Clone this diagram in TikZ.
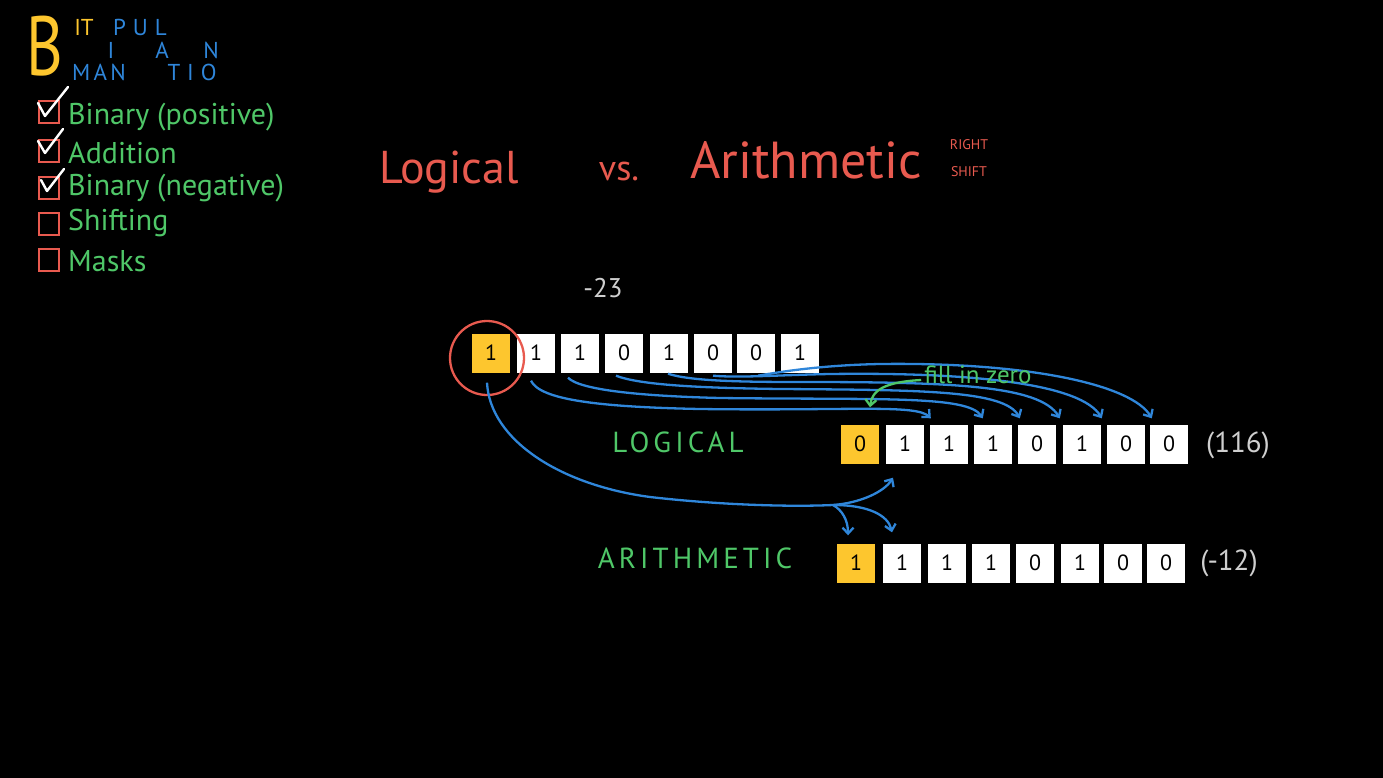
\documentclass[tikz,border=0pt]{standalone}
\usepackage{fontspec}
\setmainfont{PT Sans}
\newfontfamily\spaced[LetterSpace=14]{PT Sans}
\newfontfamily\wide[LetterSpace=30]{PT Sans}
\usetikzlibrary{arrows.meta,calc}
\definecolor{hy}{HTML}{FDC62E}
\definecolor{hr}{HTML}{E85A4F}
\definecolor{hg}{HTML}{4FC768}
\definecolor{hb}{HTML}{2F86DA}
\definecolor{hgray}{HTML}{CFCFCF}
\begin{document}
\begin{tikzpicture}[x=1pt,y=-1pt,
  bit/.style={fill=white,minimum width=38pt,minimum height=39pt,inner sep=0pt,
    font=\fontsize{22}{22}\selectfont,text=black},
  sbit/.style={bit,fill=hy},
  barrow/.style={draw=hb,line width=2.3pt,-{Straight Barb[length=6pt,width=11pt,line width=2.3pt]}},
  garrow/.style={draw=hg,line width=2.3pt,-{Straight Barb[length=6pt,width=11pt,line width=2.3pt]}},
  chk/.style={draw=hr,line width=2.4pt,minimum width=20pt,minimum height=22pt,inner sep=0pt},
  tick/.style={draw=white,line width=2.4pt,line cap=round,line join=round},
  item/.style={anchor=west,text=hg,font=\fontsize{30}{30}\selectfont,inner sep=0pt},
  bl/.style={text=hb,font=\fontsize{23}{23}\selectfont,inner sep=0pt,text height=17pt,text depth=0pt},
  yl/.style={text=hy,font=\fontsize{23}{23}\selectfont,inner sep=0pt,text height=17pt,text depth=0pt},
  lab/.style={text=hg,font=\spaced\fontsize{29}{29}\selectfont},
  ttl/.style={text=hr,inner sep=0pt},
  sml/.style={text=hr,inner sep=0pt,font=\fontsize{14}{14}\selectfont,text height=10pt,text depth=0pt}]
\fill[black] (0,0) rectangle (1383,778);
\useasboundingbox (0,0) rectangle (1383,778);

% ---- title block top-left
\node[text=hy,inner sep=0pt,font=\fontsize{84}{84}\selectfont,xscale=0.75,text height=60pt,text depth=0pt] (B) at (45,46) {B};
\node[yl] (IT) at (84,27) {IT};
\node[bl,font=\wide\fontsize{23}{23}\selectfont] (PUL) at (140,27) {PUL};
\node[bl] (I2) at (111,50) {I};
\node[bl] (A2) at (162,50) {A};
\node[bl] (N2) at (211,50) {N};
\node[bl,font=\spaced\fontsize{23}{23}\selectfont] (MAN) at (99,72) {MAN};
\node[bl,font=\wide\fontsize{23}{23}\selectfont] (TIO) at (192,72) {TIO};

% ---- checklist
\node[chk] (c1) at (49,112) {};
\node[chk] (c2) at (49,151) {};
\node[chk] (c3) at (49,188) {};
\node[chk] (c4) at (49,224) {};
\node[chk] (c5) at (49,260) {};
\draw[tick] (38,103) -- (45,116) -- (68,87);
\draw[tick] (38,141) -- (45,153) -- (63,129);
\draw[tick] (41,180) -- (47,191) -- (64,169);
\node[item] (i1) at (68,117) {Binary (positive)};
\node[item] (i2) at (68,153) {Addition};
\node[item] (i3) at (68,188) {Binary (negative)};
\node[item] (i4) at (68,223) {Shifting};
\node[item] (i5) at (68,261) {Masks};

% ---- main title
\node[ttl,font=\fontsize{46}{46}\selectfont] (tl) at (449,172) {Logical};
\node[ttl,font=\fontsize{36}{36}\selectfont] (tvs) at (619,172) {vs.};
\node[ttl,font=\fontsize{52}{52}\selectfont] (ta) at (806,160) {Arithmetic};
\node[sml] (tr) at (969,145) {RIGHT};
\node[sml] (ts) at (969,172) {SHIFT};

% ---- original number
\node[text=hgray,font=\fontsize{27}{27}\selectfont] (n23) at (603,288) {-23};
\node[sbit] (t1) at (491,353) {1};
\node[bit] (t2) at (536,353) {1};
\node[bit] (t3) at (580,353) {1};
\node[bit] (t4) at (624,353) {0};
\node[bit] (t5) at (669,353) {1};
\node[bit] (t6) at (713,353) {0};
\node[bit] (t7) at (756,353) {0};
\node[bit] (t8) at (800,353) {1};
\node[draw=hr,circle,line width=2.3pt,minimum size=74pt] (ring) at (487,358) {};

% ---- logical row
\node[lab] (LL) at (678,442) {LOGICAL};
\node[sbit] (l1) at (860,444) {0};
\node[bit] (l2) at (905,444) {1};
\node[bit] (l3) at (949,444) {1};
\node[bit] (l4) at (993,444) {1};
\node[bit] (l5) at (1037,444) {0};
\node[bit] (l6) at (1082,444) {1};
\node[bit] (l7) at (1126,444) {0};
\node[bit] (l8) at (1169,444) {0};
\node[text=hgray,font=\fontsize{29}{29}\selectfont] (v116) at (1238,445) {(116)};

% ---- arithmetic row
\node[lab] (AL) at (695,558) {ARITHMETIC};
\node[sbit] (a1) at (856,563) {1};
\node[bit] (a2) at (902,563) {1};
\node[bit] (a3) at (947,563) {1};
\node[bit] (a4) at (991,563) {1};
\node[bit] (a5) at (1035,563) {0};
\node[bit] (a6) at (1080,563) {1};
\node[bit] (a7) at (1123,563) {0};
\node[bit] (a8) at (1166,563) {0};
\node[text=hgray,font=\fontsize{29}{29}\selectfont] (v12) at (1229,563) {(-12)};

% ---- shift arrows (logical)
\draw[barrow] ($(t2.south)+(-5,8)$) .. controls (540,400) and (600,407) .. (700,409)
   .. controls (850,411) and (916,404) .. ($(l3.north west)+(1,-6)$);
\draw[barrow] ($(t3.south)+(-12,5)$) .. controls (580,390) and (640,396) .. (720,398)
   .. controls (880,400) and (968,395) .. ($(l4.north west)+(9,-6)$);
\draw[barrow] ($(t4.south)+(-8,3)$) .. controls (640,385) and (700,388) .. (780,389)
   .. controls (920,390) and (1005,390) .. ($(l5.north west)+(2,-6)$);
\draw[barrow] ($(t5.south)+(-1,1)$) .. controls (690,381) and (740,382) .. (800,382)
   .. controls (950,382) and (1040,385) .. ($(l6.north west)+(-3,-6)$);
\draw[barrow] ($(t6.south)+(0,3)$) .. controls (740,378) and (780,375) .. (830,374)
   .. controls (980,372) and (1082,385) .. ($(l7.north west)+(-5,-6)$);
\draw[barrow] ($(t7.south)+(2,3)$) .. controls (790,370) and (830,365) .. (880,364)
   .. controls (1030,362) and (1132,385) .. ($(l8.north west)+(2,-6)$);

% ---- fill in zero
\node[text=hg,font=\fontsize{25}{25}\selectfont,inner sep=0pt] (fz) at (978,375) {fill in zero};
\draw[garrow] ($(fz.west)+(-3,5)$) .. controls (885,382) and (872,390) .. ($(l1.north)+(10,-17)$);

% ---- sign bit arrows
\coordinate (br) at (833,505);
\draw[draw=hb,line width=2.3pt] ($(t1.south)+(-4,10)$) .. controls (490,440) and (560,485) .. (650,497)
   .. controls (720,505) and (790,507) .. (br);
\draw[barrow] (br) .. controls (860,503) and (884,492) .. ($(l2.south)+(-12,14)$);
\draw[barrow] (br) .. controls (842,510) and (848,520) .. ($(a1.north)+(-8,-8)$);
\draw[barrow] (br) .. controls (868,505) and (888,515) .. ($(a2.north)+(-10,-11)$);
\end{tikzpicture}
\end{document}
